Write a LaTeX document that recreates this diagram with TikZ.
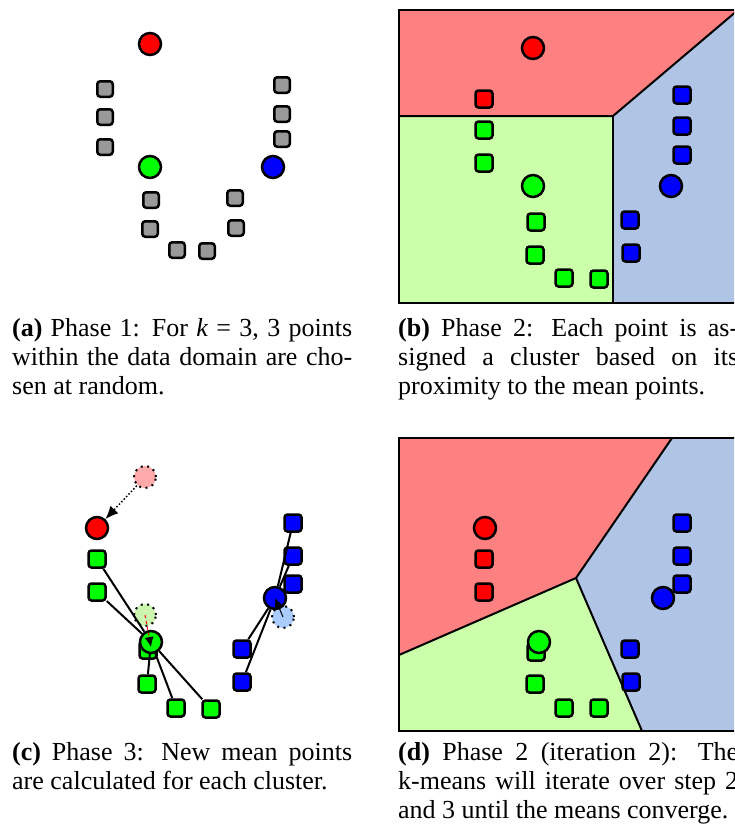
\documentclass[tikz,border=0pt]{standalone}
\usepackage{fontspec}
\setmainfont{Liberation Serif}
\usepackage{tikz}
\usetikzlibrary{arrows.meta}

\definecolor{regionred}{HTML}{FF8080}
\definecolor{regiongreen}{HTML}{CCFFAA}
\definecolor{regionblue}{HTML}{B0C4E6}
\definecolor{oldred}{HTML}{FFAAAA}
\definecolor{oldgreen}{HTML}{CCF5B0}
\definecolor{oldblue}{HTML}{AACCFF}
\definecolor{pointgray}{HTML}{999999}

\begin{document}
\begin{tikzpicture}[x=1pt,y=-1pt,
    point/.style={rectangle,rounded corners=3pt,draw,line width=2.5pt,minimum size=17pt,inner sep=0pt},
    smallpoint/.style={point,minimum size=15.5pt,fill=pointgray},
    mean/.style={circle,draw,line width=2.5pt,minimum size=22pt,inner sep=0pt},
    oldmean/.style={circle,draw,line width=2pt,dash pattern=on 2pt off 4.5pt,minimum size=22pt,inner sep=0pt},
    border/.style={line width=2pt},
    link/.style={line width=2pt},
    caption/.style={text width=340pt,align=justify,inner sep=0pt,anchor=north west,
      font=\fontsize{26}{29}\selectfont}]
  \clip (0,0) rectangle (734,835);

  % (a) random start
  \foreach \px/\py [count=\i] in {105/89,105/117,105/147,282/85,282/114,282/139,
      151/200,150/229,177/250,207/251,235/198,236/228}
    \node[smallpoint] (a\i) at (\px,\py) {};
  \node[mean,fill=red] (ared) at (150,44) {};
  \node[mean,fill=green] (agreen) at (150,167) {};
  \node[mean,fill=blue] (ablue) at (273,167) {};

  % (b) first assignment
  \fill[regionred] (399,10) -- (738,10) -- (613,116) -- (399,116) -- cycle;
  \fill[regiongreen] (399,116) -- (613,116) -- (613,303) -- (399,303) -- cycle;
  \fill[regionblue] (613,116) -- (738,10) -- (738,303) -- (613,303) -- cycle;
  \draw[border] (399,116) -- (613,116) -- (738,10);
  \draw[border] (613,116) -- (613,303);
  \draw[border] (399,10) rectangle (738,303);

  \node[point,fill=red] (br1) at (484,99) {};
  \foreach \px/\py [count=\i] in {484/130,484/163,536/222,535/255,564/278,599/279}
    \node[point,fill=green] (bg\i) at (\px,\py) {};
  \foreach \px/\py [count=\i] in {682/95,682/126,682/155,630/220,631/253}
    \node[point,fill=blue] (bb\i) at (\px,\py) {};
  \node[mean,fill=red] (bred) at (533,48) {};
  \node[mean,fill=green] (bgreen) at (533,186) {};
  \node[mean,fill=blue] (bblue) at (671,186) {};

  % (c) means move to the cluster centres
  \node[oldmean,fill=oldred] (cold1) at (145,477) {};
  \node[oldmean,fill=oldgreen] (cold2) at (145,615) {};
  \node[oldmean,fill=oldblue] (cold3) at (283,617) {};

  \foreach \px/\py [count=\i] in {97/559,97/592,148/650,147/684,176/708,211/709}
    \node[point,fill=green] (cg\i) at (\px,\py) {};
  \foreach \px/\py [count=\i] in {293/523,293/556,293/584,242/649,242/682}
    \node[point,fill=blue] (cb\i) at (\px,\py) {};

  \node[mean,fill=red] (cred) at (97,528) {};
  \node[mean,fill=green] (cgreen) at (151,642) {};
  \node[mean,fill=blue] (cblue) at (275,598) {};

  \foreach \i in {1,2,4,5,6}
    \draw[link] (cg\i) -- (cgreen);
  \foreach \i in {1,2,3,4,5}
    \draw[link] (cb\i) -- (cblue);

  \draw[line width=1.5pt,dotted,-{Latex[length=13pt,width=11pt]}] (cold1) -- (cred);
  \draw[red,line width=1pt,dashed,-{Latex[black,length=10pt,width=9pt]}] (cold2.center) -- ([yshift=-5pt]cgreen.center);
  \draw[line width=1pt,-{Latex[length=10pt,width=9pt]}] (cold3.center) -- (cblue.center);

  % (d) second assignment
  \fill[regionred] (399,438) -- (672,438) -- (576,578) -- (399,655) -- cycle;
  \fill[regiongreen] (399,655) -- (576,578) -- (642,731) -- (399,731) -- cycle;
  \fill[regionblue] (672,438) -- (738,438) -- (738,731) -- (642,731) -- (576,578) -- cycle;
  \draw[border] (399,655) -- (576,578) -- (672,438);
  \draw[border] (576,578) -- (642,731);
  \draw[border] (399,438) rectangle (738,731);

  \foreach \px/\py [count=\i] in {484/559,484/592}
    \node[point,fill=red] (dr\i) at (\px,\py) {};
  \foreach \px/\py [count=\i] in {536/652,535/684,564/708,599/708}
    \node[point,fill=green] (dg\i) at (\px,\py) {};
  \foreach \px/\py [count=\i] in {682/523,682/556,682/584,630/649,631/682}
    \node[point,fill=blue] (db\i) at (\px,\py) {};
  \node[mean,fill=red] (dred) at (485,528) {};
  \node[mean,fill=green] (dgreen) at (539,642) {};
  \node[mean,fill=blue] (dblue) at (663,598) {};

  % captions
  \node[caption] (capa) at (12,316) {\strut\textbf{(a)} Phase 1: For \textit{k} = 3, 3 points\linebreak
    within the data domain are cho-\linebreak sen at random.};
  \node[caption] (capb) at (398,316) {\strut\textbf{(b)} Phase 2: Each point is as-\linebreak
    signed a cluster based on its\linebreak proximity to the mean points.};
  \node[caption] (capc) at (12,740) {\strut\textbf{(c)} Phase 3: New mean points\linebreak
    are calculated for each cluster.};
  \node[caption] (capd) at (398,740) {\strut\textbf{(d)} Phase 2 (iteration 2): The\linebreak
    k-means will iterate over step 2\linebreak and 3 until the means converge.};
\end{tikzpicture}
\end{document}
